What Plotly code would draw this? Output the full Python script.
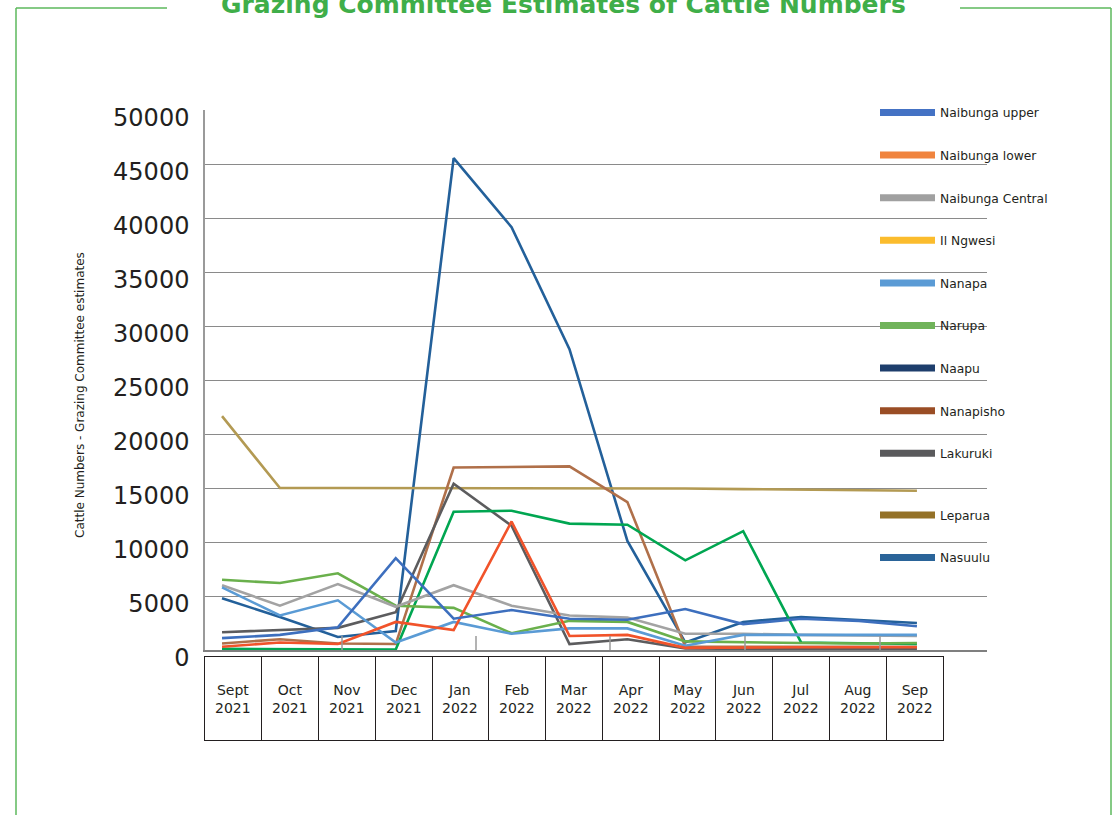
import plotly.graph_objects as go

W, H = 1117, 815

months = ["Sept 2021", "Oct 2021", "Nov 2021", "Dec 2021", "Jan 2022", "Feb 2022", "Mar 2022",
          "Apr 2022", "May 2022", "Jun 2022", "Jul 2022", "Aug 2022", "Sep 2022"]
month_labels = ["Sept<br>2021", "Oct<br>2021", "Nov<br>2021", "Dec<br>2021", "Jan<br>2022", "Feb<br>2022",
                "Mar<br>2022", "Apr<br>2022", "May<br>2022", "Jun<br>2022", "Jul<br>2022", "Aug<br>2022",
                "Sep<br>2022"]

series_names = ["Naibunga upper", "Naibunga lower", "Naibunga Central", "Il Ngwesi", "Nanapa", "Narupa",
                "Naapu", "Nanapisho", "Lakuruki", "Leparua", "Nasuulu"]

naibunga_upper = [1100, 1400, 2100, 8500, 2900, 3700, 2900, 2800, 3800, 2400, 2900, 2700, 2200]
naibunga_lower = [300, 700, 550, 2600, 1850, 11900, 1300, 1400, 200, 250, 250, 250, 250]
naibunga_central = [6000, 4100, 6100, 4000, 6000, 4100, 3200, 3000, 1500, 1500, 1400, 1350, 1300]
il_ngwesi = [None] * 13
nanapa = [5800, 3200, 4600, 700, 2600, 1500, 2000, 2000, 400, 1400, 1400, 1400, 1400]
narupa = [6500, 6200, 7100, 4100, 3900, 1550, 2700, 2600, 800, 700, 650, 600, 650]
naapu = [100, 100, 50, 50, 12800, 12900, 11700, 11600, 8300, 11000, 700, 600, 550]
nanapisho = [600, 1000, 600, 550, 16900, 16950, 17000, 13700, 300, 300, 300, 300, 300]
lakuruki = [1650, 1850, 2050, 3500, 15400, 11500, 550, 1000, 150, 100, 100, 100, 100]
leparua = [21650, 15000, 15000, 15000, 15000, 15000, 14950, 14950, 14950, 14900, 14850, 14800, 14750]
nasuulu = [4800, 3050, 1200, 1750, 45550, 39150, 27850, 10100, 700, 2600, 3050, 2800, 2500]

series_values = [naibunga_upper, naibunga_lower, naibunga_central, il_ngwesi, nanapa, narupa,
                 naapu, nanapisho, lakuruki, leparua, nasuulu]

line_colors = ["#3d6fbe", "#f1532a", "#a3a3a3", "#fbb92f", "#5a9bd5", "#6ab04c",
               "#00a651", "#b0704a", "#5c5c5e", "#b39a53", "#23609a"]
legend_colors = ["#4472c4", "#f0843e", "#a0a0a0", "#fbbc2d", "#5b9bd5", "#70b35a",
                 "#1e3e6c", "#9a4d25", "#5a5a5c", "#947128", "#2a6499"]

y_ticks = [0, 5000, 10000, 15000, 20000, 25000, 30000, 35000, 40000, 45000, 50000]


def px(x):
    return x / W


def py(y):
    return 1 - y / H


fig = go.Figure()

order = [10, 9, 7, 8, 6, 5, 2, 4, 1, 0, 3]
for i in order:
    fig.add_trace(go.Scatter(x=months, y=series_values[i], mode="lines", name=series_names[i],
                             line=dict(color=line_colors[i], width=2.6), showlegend=False,
                             xaxis="x", yaxis="y", hoverinfo="x+y+name"))

for i, name in enumerate(series_names):
    extra = {}
    if name == "Leparua":
        extra["legendgrouptitle"] = dict(text="\u00a0", font=dict(size=8))
    fig.add_trace(go.Scatter(x=[None], y=[None], mode="lines", name=name, legendgroup=name,
                             line=dict(color=legend_colors[i], width=7), showlegend=True,
                             xaxis="x", yaxis="y", **extra))

fig.add_trace(go.Scatter(x=months, y=[None] * 13, mode="lines", showlegend=False,
                         xaxis="x2", yaxis="y2", hoverinfo="skip"))

shapes = []
green = "#5cb85c"
shapes.append(dict(type="line", xref="paper", yref="paper", x0=px(16), x1=px(16), y0=py(8), y1=py(820),
                   line=dict(color=green, width=1.5)))
shapes.append(dict(type="line", xref="paper", yref="paper", x0=px(1111), x1=px(1111), y0=py(8), y1=py(820),
                   line=dict(color=green, width=1.5)))
shapes.append(dict(type="line", xref="paper", yref="paper", x0=px(16), x1=px(167), y0=py(8), y1=py(8),
                   line=dict(color=green, width=1.5)))
shapes.append(dict(type="line", xref="paper", yref="paper", x0=px(960), x1=px(1111), y0=py(8), y1=py(8),
                   line=dict(color=green, width=1.5)))
for xx in [342, 476, 610, 745, 880]:
    shapes.append(dict(type="line", xref="paper", yref="paper", x0=px(xx), x1=px(xx), y0=py(650), y1=py(636),
                       line=dict(color="#9a9a9a", width=1.5)))

annotations = []
annotations.append(dict(text="<b>Grazing Committee Estimates of Cattle Numbers</b>", xref="paper", yref="paper",
                        x=px(563), y=py(5), xanchor="center", yanchor="middle", showarrow=False,
                        font=dict(family="DejaVu Sans", size=25, color="#3fae49")))
annotations.append(dict(text="Cattle Numbers - Grazing Committee estimates", xref="paper", yref="paper",
                        x=px(80), y=py(395), xanchor="center", yanchor="middle", showarrow=False,
                        textangle=-90, font=dict(family="DejaVu Sans", size=12, color="#231f20")))
for m, lab in zip(months, month_labels):
    annotations.append(dict(text=lab, xref="x2", yref="y2", x=m, y=0.5, xanchor="center", yanchor="middle",
                            showarrow=False, font=dict(family="DejaVu Sans", size=14, color="#231f20")))

fig.update_layout(
    width=W, height=H,
    margin=dict(l=0, r=0, t=0, b=0, autoexpand=False),
    paper_bgcolor="white", plot_bgcolor="rgba(0,0,0,0)",
    showlegend=True,
    legend=dict(x=px(875), y=py(98), xanchor="left", yanchor="top", bgcolor="rgba(0,0,0,0)",
                font=dict(family="DejaVu Sans", size=12.3, color="#231f20"), tracegroupgap=23.6,
                itemwidth=55, traceorder="grouped"),
    xaxis=dict(domain=[px(205), px(987)], type="category", categoryorder="array", categoryarray=months,
               range=[-0.294, 13.21], showgrid=False, showticklabels=False, ticks="", automargin=False,
               showline=True, linecolor="#7f7f7f", linewidth=2, zeroline=False, fixedrange=True),
    yaxis=dict(domain=[py(650), py(110)], range=[0, 50000], tickvals=y_ticks, automargin=False,
               ticktext=[str(v) for v in y_ticks], showgrid=True, gridcolor="#8a8a8a", gridwidth=1,
               showline=True, linecolor="#9a9a9a", linewidth=1.5, zeroline=False, ticks="",
               tickfont=dict(family="DejaVu Sans", size=24, color="#231f20"),
               ticklabelshift=8, ticklabelstandoff=9, fixedrange=True),
    xaxis2=dict(domain=[px(205), px(943)], anchor="y2", type="category", categoryorder="array",
                categoryarray=months, range=[-0.5, 12.5], tickson="boundaries", showgrid=True,
                gridcolor="#231f20", gridwidth=1, showticklabels=False, ticks="", showline=True,
                automargin=False, mirror=True, linecolor="#231f20", linewidth=1, zeroline=False,
                fixedrange=True),
    yaxis2=dict(domain=[py(740), py(657)], anchor="x2", range=[0, 1], showgrid=False, automargin=False,
                showticklabels=False, ticks="", showline=True, mirror=True, linecolor="#231f20",
                linewidth=1, zeroline=False, fixedrange=True),
    shapes=shapes,
    annotations=annotations,
)

fig.write_html("out.html", config={"displayModeBar": False},
               post_script="document.body.style.margin='0';document.body.style.overflow='hidden';")
